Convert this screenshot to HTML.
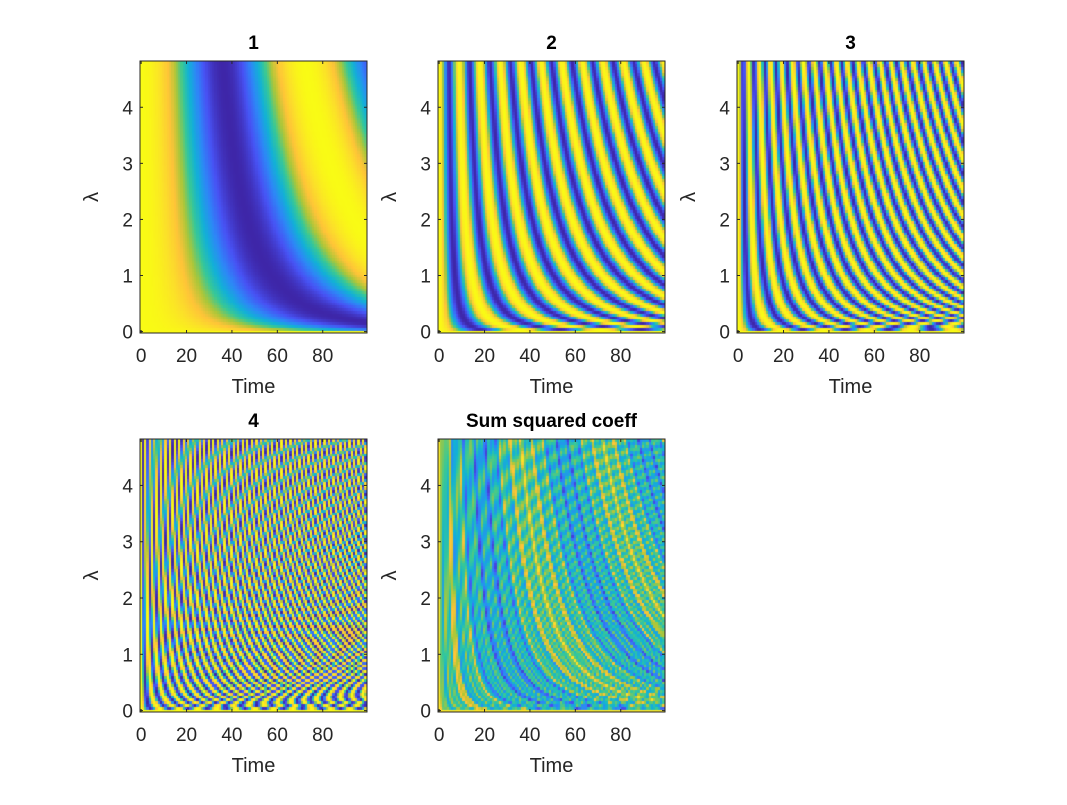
<!DOCTYPE html>
<html><head><meta charset="utf-8"><style>
body{margin:0;background:#fff;width:1067px;height:800px;overflow:hidden;font-family:"Liberation Sans",Arial,sans-serif}
svg text{font-family:"Liberation Sans",Arial,sans-serif}
</style></head><body>
<svg id="fig" width="1067" height="800"></svg>
<script>
// Data
const timeValues = Array.from({length:100},(_, i)=>i);
const lambdaValues = Array.from({length:97},(_, i)=>i*0.05);
const panelTitles = ["1","2","3","4","Sum squared coeff"];
const panelFrequencies = [1, 8, 15, 34];
const xTickLabels = [0,20,40,60,80];
const yTickLabels = [0,1,2,3,4];
const basePeriod = 58;
const lambdaExponent = 0.3;

const panels = [
  {x:140,y:61,w:227,h:272},
  {x:438,y:61,w:227,h:272},
  {x:737,y:61,w:227,h:272},
  {x:140,y:439,w:227,h:273},
  {x:438,y:439,w:227,h:273}
];
const parula=[[0.2422,0.1504,0.6603],[0.2810,0.3228,0.9579],[0.1786,0.5289,0.9682],[0.0689,0.6948,0.8394],[0.2161,0.7843,0.5923],[0.6720,0.7793,0.2227],[0.9970,0.7659,0.2199],[0.9856,0.8820,0.1600],[0.9769,0.9839,0.0805]];
function cmap(v){v=Math.max(0,Math.min(1,v));const p=v*8,i=Math.min(7,Math.floor(p)),f=p-i;const a=parula[i],b=parula[i+1];
return `rgb(${Math.round(255*(a[0]+(b[0]-a[0])*f))},${Math.round(255*(a[1]+(b[1]-a[1])*f))},${Math.round(255*(a[2]+(b[2]-a[2])*f))})`;}
function coeff(k,t,l){return Math.cos(Math.PI*panelFrequencies[k]*t*Math.pow(l,lambdaExponent)/basePeriod);}
const NS='http://www.w3.org/2000/svg';
const svg=document.getElementById('fig');
function el(tag,attrs,parent){const e=document.createElementNS(NS,tag);for(const k in attrs)e.setAttribute(k,attrs[k]);(parent||svg).appendChild(e);return e;}
const xMin=-0.5,xMax=99.5,yMin=-0.025,yMax=4.825;
panels.forEach((P,pi)=>{
  const g=el('g',{});
  
  
  const xs=t=>P.x+(t-xMin)/(xMax-xMin)*P.w;
  const ys=l=>P.y+P.h-(l-yMin)/(yMax-yMin)*P.h;
  const cv=document.createElement('canvas');cv.width=P.w;cv.height=P.h;
  const ctx=cv.getContext('2d');
  lambdaValues.forEach(l=>{timeValues.forEach(t=>{
    let v;
    if(pi<4){v=(coeff(pi,t,l)+1)/2;}
    else{let s=0;for(let k=0;k<4;k++){const c=coeff(k,t,l);s+=c*c;}v=0.46+(s/4-0.5)*0.85;}
    ctx.fillStyle=cmap(v);
    const x0=xs(t-0.5)-P.x,x1=xs(t+0.5)-P.x,y0=ys(l+0.025)-P.y,y1=ys(l-0.025)-P.y;
    ctx.fillRect(Math.floor(x0),Math.floor(y0),Math.ceil(x1)-Math.floor(x0),Math.ceil(y1)-Math.floor(y0));
  });});
  const fo=el('image',{x:P.x,y:P.y,width:P.w,height:P.h,href:cv.toDataURL()},g);
  
  
  const box=el('rect',{x:P.x,y:P.y,width:P.w,height:P.h,fill:'none',stroke:'#262626','stroke-width':1},g);
  
  
  xTickLabels.forEach(t=>{const X=xs(t);
    el('line',{x1:X,x2:X,y1:P.y+P.h,y2:P.y+P.h-3,stroke:'#262626'},g);
    el('line',{x1:X,x2:X,y1:P.y,y2:P.y+3,stroke:'#262626'},g);
    const tx=el('text',{x:X,y:P.y+P.h+29,'text-anchor':'middle','font-size':19,fill:'#262626'},g);tx.textContent=t;
    
    
  });
  yTickLabels.forEach(l=>{const Y=ys(l);
    el('line',{x1:P.x,x2:P.x+3,y1:Y,y2:Y,stroke:'#262626'},g);
    el('line',{x1:P.x+P.w,x2:P.x+P.w-3,y1:Y,y2:Y,stroke:'#262626'},g);
    const tx=el('text',{x:P.x-7,y:Y+7,'text-anchor':'end','font-size':19,fill:'#262626'},g);tx.textContent=l;
    
    
  });
  const xl=el('text',{x:P.x+P.w/2,y:P.y+P.h+60,'text-anchor':'middle','font-size':20,fill:'#262626'},g);xl.textContent='Time';
  
  
  const yl=el('text',{x:0,y:0,'text-anchor':'middle','font-size':20,fill:'#262626','font-family':'Liberation Serif, serif',transform:`translate(${P.x-42},${P.y+P.h/2}) rotate(-90)`},g);yl.textContent='λ';
  
  
  const tt=el('text',{x:P.x+P.w/2,y:P.y-12,'text-anchor':'middle','font-size':19,'font-weight':'bold',fill:'#000'},g);tt.textContent=panelTitles[pi];
  
  
});
</script>
</body></html>
